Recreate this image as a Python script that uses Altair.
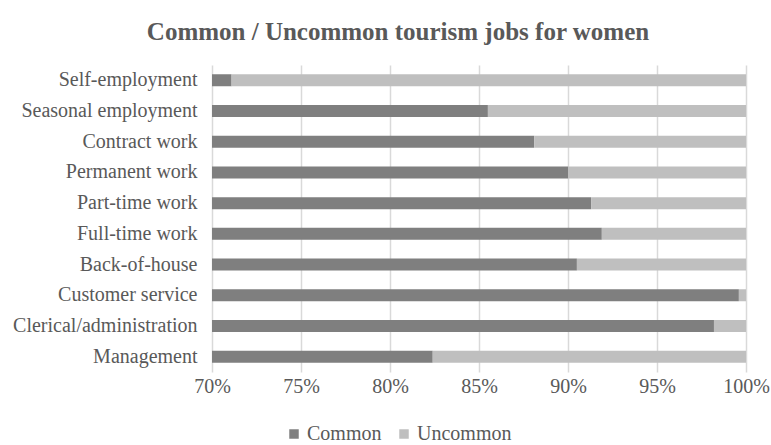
import altair as alt
import pandas as pd

categories = [
    "Self-employment", "Seasonal employment", "Contract work", "Permanent work",
    "Part-time work", "Full-time work", "Back-of-house", "Customer service",
    "Clerical/administration", "Management",
]
common = [71.1, 85.5, 88.1, 90.0, 91.3, 91.9, 90.5, 99.6, 98.2, 82.4]
uncommon = [round(100 - c, 1) for c in common]
series = ["Common", "Uncommon"]
colors = ["#7f7f7f", "#bfbfbf"]
ticks = [0.70, 0.75, 0.80, 0.85, 0.90, 0.95, 1.00]

rows = []
for cat, c, u in zip(categories, common, uncommon):
    rows.append({"cat": cat, "series": "Common", "value": c / 100, "ord": 0})
    rows.append({"cat": cat, "series": "Uncommon", "value": u / 100, "ord": 1})
df = pd.DataFrame(rows)

FONT = "Liberation Serif"
TXT = "#595959"

chart = alt.Chart(df).mark_bar(size=12, clip=True).encode(
    y=alt.Y("cat:N", sort=categories, title=None,
            axis=alt.Axis(domain=False, ticks=False, labelPadding=15, labelLimit=300,
                          labelFontSize=20, labelFont=FONT, labelColor=TXT)),
    x=alt.X("value:Q", stack="zero", title=None,
            scale=alt.Scale(domain=[0.7, 1.0], nice=False, zero=False),
            axis=alt.Axis(values=ticks, format=".0%", domain=False, ticks=False,
                          grid=True, gridColor="#d9d9d9", gridWidth=1.5,
                          labelFlush=False,
                          labelPadding=4, labelFontSize=20, labelFont=FONT,
                          labelColor=TXT)),
    color=alt.Color("series:N", scale=alt.Scale(domain=series, range=colors),
                    legend=alt.Legend(title=None, orient="none", direction="horizontal",
                                      legendX=72, legendY=359, symbolType="square",
                                      symbolSize=90, symbolStrokeWidth=0,
                                      labelFontSize=20, labelFont=FONT, labelColor=TXT,
                                      columnPadding=12, labelOffset=3)),
    order=alt.Order("ord:Q"),
).properties(
    width=534, height=307,
    title=alt.TitleParams("Common / Uncommon tourism jobs for women",
                          font=FONT, fontSize=25, fontWeight="bold", color=TXT,
                          anchor="middle", dx=-81, offset=20),
    autosize=alt.AutoSizeParams(type="none"),
    padding={"left": 212, "top": 65, "right": 25, "bottom": 73},
).configure_view(stroke=None).configure_axisY(grid=False)

chart.save("out.html", embed_options={"renderer": "svg", "actions": False})
